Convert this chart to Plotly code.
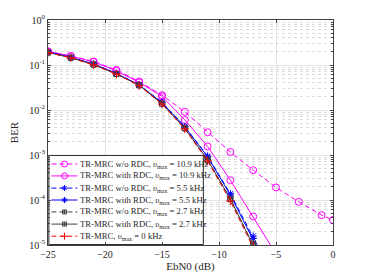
import plotly.graph_objects as go

x_long = [-25, -23, -21, -19, -17, -15, -13, -11, -9, -7, -5, -3, -1, 0]
x_std = [-25, -23, -21, -19, -17, -15, -13, -11, -9, -7, -5]

ber_109_wo = [0.20, 0.158, 0.12, 0.078, 0.043, 0.0214, 0.0091, 0.0032, 0.00117, 4.6e-4, 1.9e-4, 9.1e-5, 4.6e-5, 3.6e-5]
ber_109_w = [0.20, 0.158, 0.117, 0.074, 0.041, 0.020, 0.006, 0.00155, 2.75e-4, 4.3e-5, 6.3e-6]
ber_55_wo = [0.195, 0.148, 0.105, 0.065, 0.036, 0.0148, 0.0043, 9.5e-4, 1.38e-4, 1.58e-5, 1.6e-6]
ber_55_w = [0.195, 0.148, 0.105, 0.065, 0.036, 0.0145, 0.0042, 9.1e-4, 1.29e-4, 1.41e-5, 1.3e-6]
ber_27_wo = [0.19, 0.145, 0.102, 0.063, 0.0355, 0.0138, 0.0040, 7.9e-4, 1.07e-4, 1.07e-5, 9e-7]
ber_27_w = [0.19, 0.145, 0.102, 0.063, 0.0355, 0.0138, 0.0039, 7.8e-4, 1.05e-4, 1.05e-5, 9e-7]
ber_0 = [0.19, 0.144, 0.101, 0.063, 0.0347, 0.0135, 0.0038, 7.4e-4, 9.5e-5, 9.5e-6, 8e-7]

names = [
    "TR-MRC w/o RDC, <i>υ</i><sub>max</sub> = 10.9 kHz",
    "TR-MRC with RDC, <i>υ</i><sub>max</sub> = 10.9 kHz",
    "TR-MRC w/o RDC, <i>υ</i><sub>max</sub> = 5.5 kHz",
    "TR-MRC with RDC, <i>υ</i><sub>max</sub> = 5.5 kHz",
    "TR-MRC w/o RDC, <i>υ</i><sub>max</sub> = 2.7 kHz",
    "TR-MRC with RDC, <i>υ</i><sub>max</sub> = 2.7 kHz",
    "TR-MRC, <i>υ</i><sub>max</sub> = 0 kHz",
]

ytickvals = [1, 0.1, 0.01, 0.001, 1e-4, 1e-5]
yticktext = ["10<sup>0</sup>", "10<sup>-1</sup>", "10<sup>-2</sup>", "10<sup>-3</sup>", "10<sup>-4</sup>", "10<sup>-5</sup>"]
xtickvals = [-25, -20, -15, -10, -5, 0]

DASH = "5px,3px"
series = [
    (x_long, ber_109_wo, "#FF00FF", DASH, "circle-open", 7),
    (x_std, ber_109_w, "#FF00FF", "solid", "circle-open", 7),
    (x_std, ber_55_wo, "#0000FF", DASH, "asterisk-open", 6),
    (x_std, ber_55_w, "#0000FF", "solid", "asterisk-open", 6),
    (x_std, ber_27_wo, "#404040", DASH, "square-cross-open", 5),
    (x_std, ber_27_w, "#404040", "solid", "square-cross-open", 5),
    (x_std, ber_0, "#FF0000", DASH, "cross-thin-open", 6),
]

fig = go.Figure()
for (xs, ys, col, dash, sym, sz), nm in zip(series, names):
    fig.add_trace(go.Scatter(
        x=xs, y=ys, name=nm, mode="lines+markers", showlegend=False,
        line=dict(color=col, width=1, dash=dash),
        marker=dict(symbol=sym, size=sz, color=col, line=dict(color=col, width=1)),
    ))

# custom compact legend: box, samples on an overlay axis, text annotations
lx0, lx1, ly0, ly1 = 0.003, 0.545, 0.002, 0.398
fig.add_trace(go.Scatter(
    x=[lx0, lx1, lx1, lx0, lx0], y=[ly0, ly0, ly1, ly1, ly0], xaxis="x2", yaxis="y2",
    mode="lines", fill="toself", fillcolor="white", showlegend=False, hoverinfo="skip",
    line=dict(color="#262626", width=1),
))
entry_y = [0.360, 0.307, 0.253, 0.200, 0.147, 0.093, 0.039]
for (xs, ys, col, dash, sym, sz), nm, ey in zip(series, names, entry_y):
    fig.add_trace(go.Scatter(
        x=[0.012, 0.058, 0.103], y=[ey, ey, ey], xaxis="x2", yaxis="y2",
        mode="lines", showlegend=False, hoverinfo="skip",
        line=dict(color=col, width=1, dash=dash),
    ))
    fig.add_trace(go.Scatter(
        x=[0.058], y=[ey], xaxis="x2", yaxis="y2",
        mode="markers", showlegend=False, hoverinfo="skip",
        marker=dict(symbol=sym, size=sz - 1, color=col, line=dict(color=col, width=1)),
    ))
    fig.add_annotation(x=0.106, y=ey, xref="paper", yref="paper", text=nm,
                       showarrow=False, xanchor="left", yanchor="middle",
                       font=dict(size=8.7, family="Liberation Serif", color="#262626"))

# page body has an 8px margin, so the figure's margins are reduced by 8px
fig.update_layout(
    width=368, height=276,
    margin=dict(l=40, r=43, t=12, b=39),
    paper_bgcolor="white", plot_bgcolor="white",
    font=dict(family="Liberation Serif", size=10, color="#262626"),
    showlegend=False,
    xaxis=dict(range=[-25, 0], tickvals=xtickvals, ticks="inside", ticklen=3,
               showline=True, linecolor="#404040", mirror="ticks",
               showgrid=True, gridcolor="#e3e3e3", gridwidth=1, zeroline=False,
               automargin=False,
               title=dict(text="EbN0 (dB)", standoff=2, font=dict(size=11))),
    yaxis=dict(type="log", range=[-5, 0], tickvals=ytickvals, ticktext=yticktext,
               ticks="inside", ticklen=3,
               showline=True, linecolor="#404040", mirror="ticks",
               showgrid=True, gridcolor="#e3e3e3", gridwidth=1, automargin=False,
               minor=dict(showgrid=True, gridcolor="#dcdcdc", griddash="dot",
                          ticks="inside", ticklen=2, dtick="D1"),
               title=dict(text="BER", standoff=10, font=dict(size=11))),
    xaxis2=dict(overlaying="x", range=[0, 1], visible=False),
    yaxis2=dict(overlaying="y", range=[0, 1], visible=False),
)

fig.write_html("out.html")
